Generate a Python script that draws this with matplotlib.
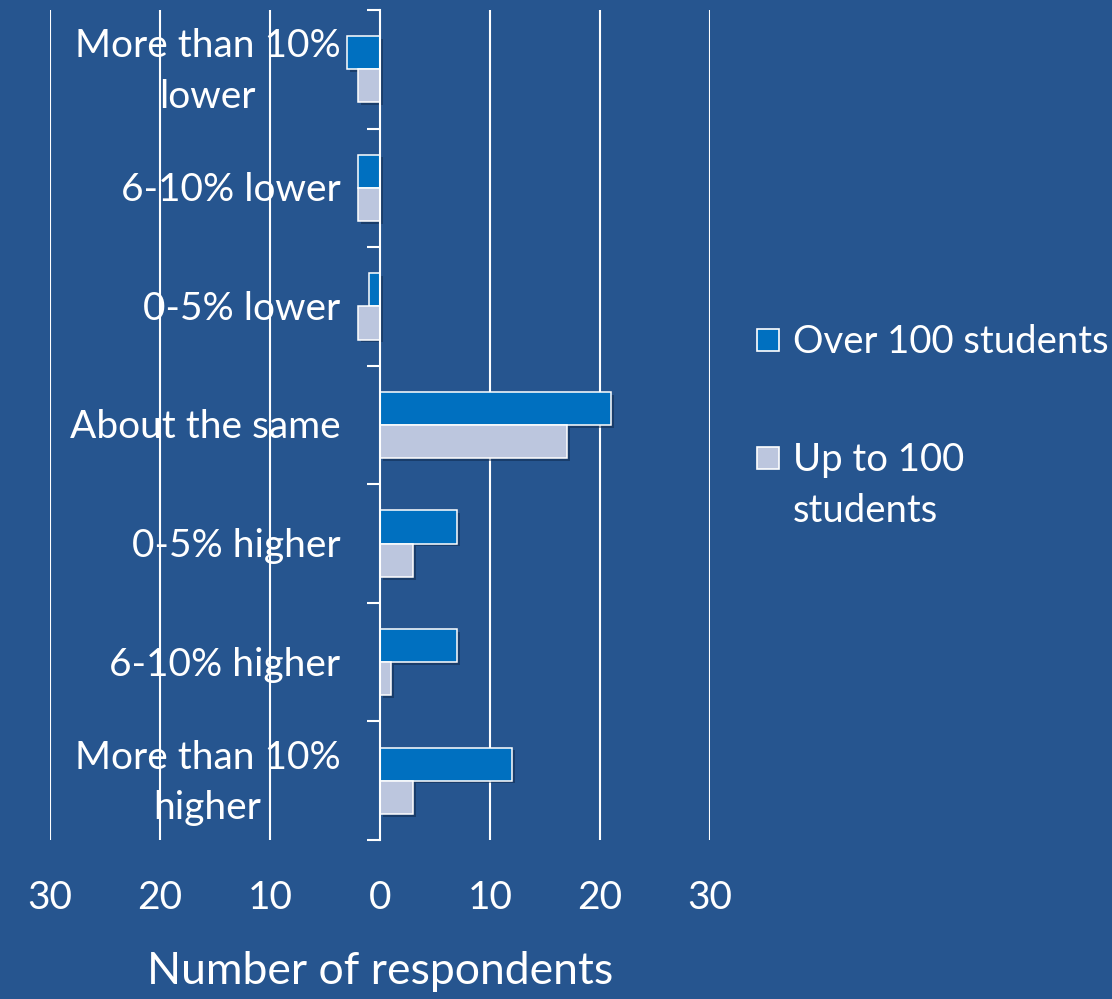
import numpy as np
import matplotlib
matplotlib.use("Agg")
import matplotlib.pyplot as plt
import matplotlib.patheffects as pe
from matplotlib.patches import Rectangle
from matplotlib.ticker import FuncFormatter, FixedLocator

# data (negative = "lower" side)
categories = ["More than 10%\nlower", "6-10% lower", "0-5% lower", "About the same",
              "0-5% higher", "6-10% higher", "More than 10%\nhigher"]
over_100 = [-3, -2, -1, 21, 7, 7, 12]
up_to_100 = [-2, -2, -2, 17, 3, 1, 3]
series_names = ["Over 100 students", "Up to 100\nstudents"]
x_ticks = [-30, -20, -10, 0, 10, 20, 30]

bg = "#26558F"
c_over = "#0070C0"
c_up = "#BCC6DE"
font = ["Lato", "DejaVu Sans"]
plt.rcParams["font.family"] = font

fig = plt.figure(figsize=(11.12, 9.99), dpi=100, facecolor=bg)
ax = fig.add_axes([50 / 1112, 1 - 840 / 999, 660 / 1112, 830 / 999])
ax.set_facecolor(bg)

y = np.arange(len(categories))
h = 0.28
shadow = [pe.SimplePatchShadow(offset=(2, -2), shadow_rgbFace="#0a2040", alpha=0.45), pe.Normal()]
ax.barh(y - h / 2, over_100, height=h, color=c_over, edgecolor="white", linewidth=1.1,
        zorder=3, path_effects=shadow)
ax.barh(y + h / 2, up_to_100, height=h, color=c_up, edgecolor="white", linewidth=1.1,
        zorder=3, path_effects=shadow)

ax.set_xlim(-30, 30)
ax.set_ylim(len(categories) - 0.5, -0.5)

# vertical gridlines
for v in x_ticks:
    if v != 0:
        ax.axvline(v, color="white", lw=1.5, zorder=1)

for s in ["top", "right", "bottom"]:
    ax.spines[s].set_visible(False)
ax.spines["left"].set_position(("data", 0))
ax.spines["left"].set_color("white")
ax.spines["left"].set_linewidth(1.5)
ax.spines["left"].set_zorder(4)

ax.yaxis.set_major_locator(FixedLocator(np.arange(len(categories) + 1) - 0.5))
ax.yaxis.set_ticklabels([])
ax.tick_params(axis="y", direction="out", length=9.5, width=1.5, color="white")

ax.set_xticks(x_ticks)
ax.xaxis.set_major_formatter(FuncFormatter(lambda v, p: f"{abs(int(v))}"))
ax.tick_params(axis="x", length=0, pad=29, labelsize=28, labelcolor="white")
ax.set_xlabel("Number of respondents", fontsize=32, color="white", labelpad=25)

for i, lab in enumerate(categories):
    ax.text(-3.6, i + 0.02, lab, ha="right", va="center", fontsize=28, color="white",
            multialignment="center", linespacing=1.5, zorder=5)

# legend drawn by hand
sq = 22
for (ypix, col, name) in [(340, c_over, series_names[0]), (458, c_up, series_names[1])]:
    fig.patches.append(Rectangle((757 / 1112, 1 - (ypix + sq / 2) / 999), sq / 1112, sq / 999,
                                 transform=fig.transFigure, facecolor=col,
                                 edgecolor="white", linewidth=1.2))
    fig.text(793 / 1112, 1 - (ypix - 16) / 999, name, ha="left", va="top", fontsize=27.5,
             color="white", linespacing=1.5)

fig.savefig("out.png", dpi=100, facecolor=bg)
